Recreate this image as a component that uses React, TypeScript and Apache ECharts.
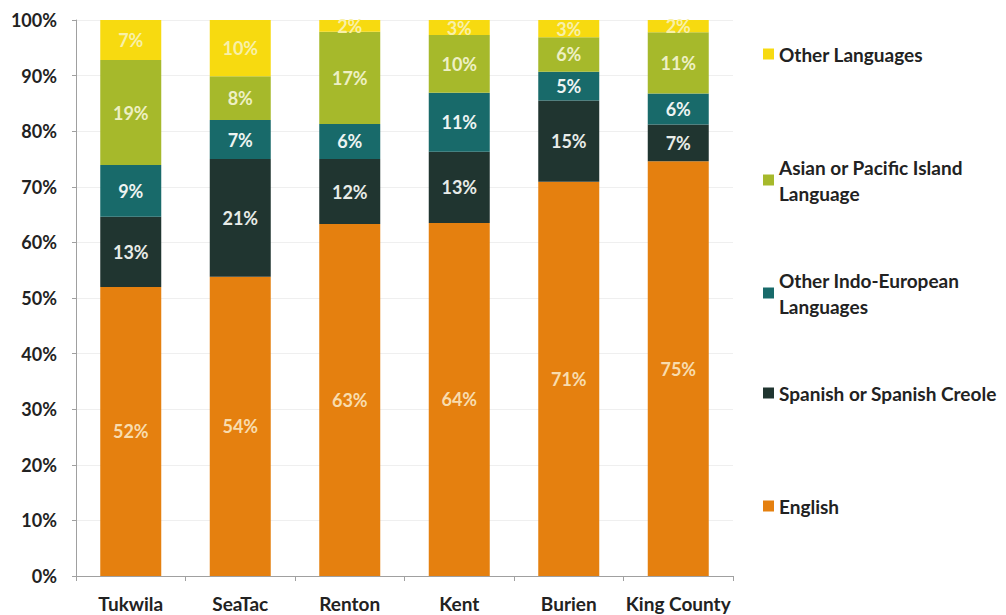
import React, { useEffect, useRef } from "react";
import * as echarts from "echarts";

const categories = ["Tukwila", "SeaTac", "Renton", "Kent", "Burien", "King County"];
const english = [52.0, 53.8, 63.3, 63.5, 70.9, 74.6];
const spanish = [12.6, 21.2, 11.7, 12.8, 14.6, 6.6];
const indoEuropean = [9.3, 7.0, 6.3, 10.6, 5.2, 5.6];
const asianPacific = [18.9, 7.9, 16.6, 10.4, 6.2, 11.0];
const otherLanguages = [7.2, 10.1, 2.1, 2.7, 3.1, 2.2];
const yTicks = [0, 10, 20, 30, 40, 50, 60, 70, 80, 90, 100];

const FONT = "Lato, 'Open Sans', sans-serif";

export default function App() {
  const ref = useRef<HTMLDivElement>(null);
  useEffect(() => {
    if (!ref.current) return;
    const chart = echarts.init(ref.current, undefined, { renderer: "svg" });
    const mk = (name: string, data: number[], color: string, labelColor: string) => ({
      name,
      type: "bar",
      stack: "total",
      data,
      barWidth: 61,
      itemStyle: { color },
      label: {
        show: true,
        position: "inside",
        formatter: (p: any) => Math.round(p.value) + "%",
        color: labelColor,
        fontFamily: FONT,
        fontWeight: "bold",
        fontSize: 18,
      },
    });
    const legendItem = (name: string, top: number, twoLine: boolean, text: string) => ({
      orient: "vertical",
      left: 758,
      top,
      icon: "rect",
      itemWidth: 11,
      itemHeight: 11,
      data: [name],
      formatter: () => text,
      textStyle: {
        fontFamily: FONT,
        fontWeight: "bold",
        fontSize: 19,
        color: "#222",
        lineHeight: 26,
        padding: twoLine ? [26, 0, 0, 0] : 0,
      },
    });
    chart.setOption({
      animation: false,
      grid: { left: 76, right: 273, top: 20, bottom: 39 },
      xAxis: {
        type: "category",
        data: categories,
        axisLine: { lineStyle: { color: "#a0a0a0" } },
        axisTick: { show: true, length: 5, lineStyle: { color: "#a0a0a0" } },
        axisLabel: {
          margin: 18,
          color: "#222",
          fontFamily: FONT,
          fontWeight: "bold",
          fontSize: 19,
          interval: 0,
        },
      },
      yAxis: {
        type: "value",
        min: yTicks[0],
        max: yTicks[yTicks.length - 1],
        interval: 10,
        axisLine: { show: true, lineStyle: { color: "#a0a0a0" } },
        axisTick: { show: true, length: 4, lineStyle: { color: "#a0a0a0" } },
        splitLine: { lineStyle: { color: "#efefef" } },
        axisLabel: {
          formatter: "{value}%",
          margin: 19,
          color: "#222",
          fontFamily: FONT,
          fontWeight: "bold",
          fontSize: 18,
        },
      },
      legend: [
        legendItem("Other Languages", 36, false, "Other Languages"),
        legendItem("Asian or Pacific Island Language", 136, true, "Asian or Pacific Island\nLanguage"),
        legendItem("Other Indo-European Languages", 249, true, "Other Indo-European\nLanguages"),
        legendItem("Spanish or Spanish Creole", 375, false, "Spanish or Spanish Creole"),
        legendItem("English", 488, false, "English"),
      ],
      series: [
        mk("English", english, "#E5800F", "#f8dcae"),
        mk("Spanish or Spanish Creole", spanish, "#203530", "#e8ece8"),
        mk("Other Indo-European Languages", indoEuropean, "#186A6A", "#eef4f2"),
        mk("Asian or Pacific Island Language", asianPacific, "#A6B92B", "#eef0c4"),
        mk("Other Languages", otherLanguages, "#F7DA10", "#f8f0a8"),
      ],
    });
    return () => chart.dispose();
  }, []);
  return (
    <div
      ref={ref}
      style={{ position: "absolute", left: 0, top: 0, width: 1006, height: 615, background: "#fff" }}
    />
  );
}
